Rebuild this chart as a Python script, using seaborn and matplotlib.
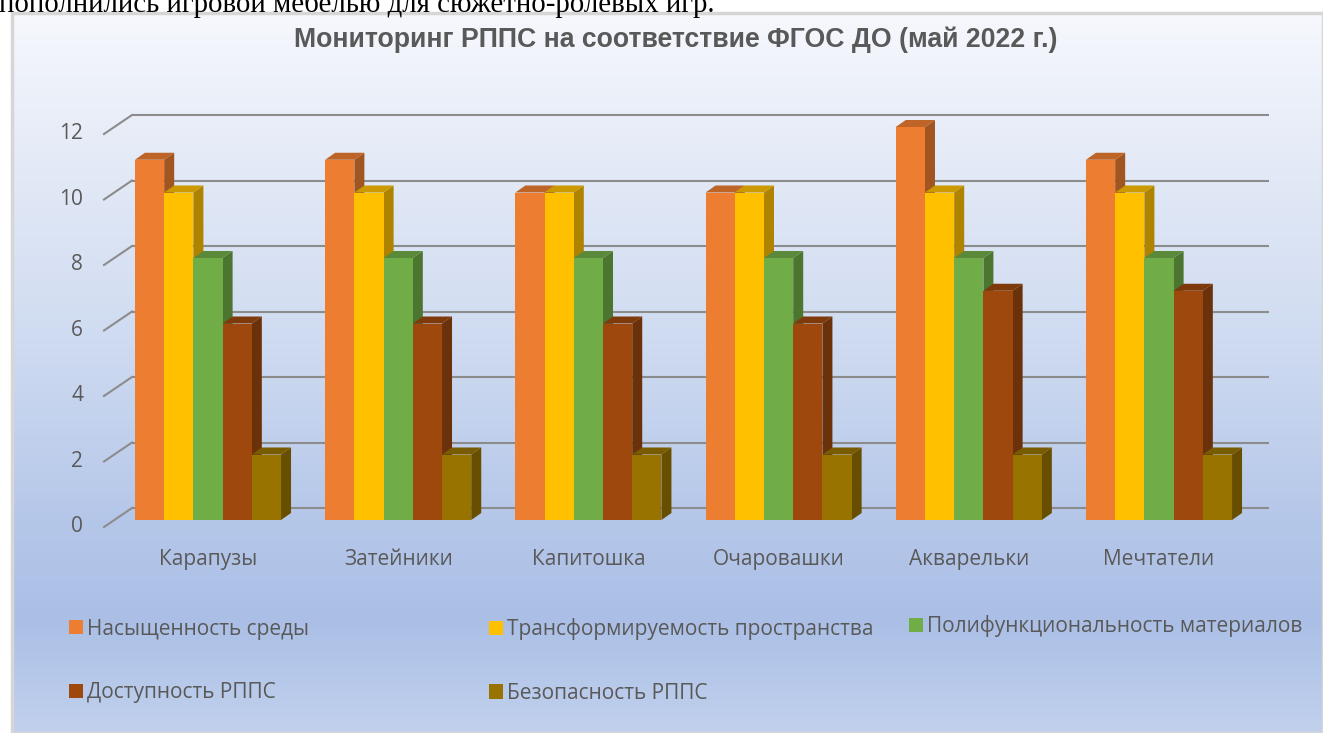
import numpy as np
import pandas as pd
import seaborn as sns
import matplotlib.pyplot as plt
from matplotlib import colors as mcolors
from matplotlib.patches import Polygon, Rectangle

# data
groups = ["Карапузы", "Затейники", "Капитошка", "Очаровашки", "Акварельки", "Мечтатели"]
series = ["Насыщенность среды", "Трансформируемость пространства",
          "Полифункциональность материалов", "Доступность РППС", "Безопасность РППС"]
saturation_vals = [11, 11, 10, 10, 12, 11]
transform_vals = [10, 10, 10, 10, 10, 10]
polyfunc_vals = [8, 8, 8, 8, 8, 8]
access_vals = [6, 6, 6, 6, 7, 7]
safety_vals = [2, 2, 2, 2, 2, 2]
y_ticks = [0, 2, 4, 6, 8, 10, 12]

title = "Мониторинг РППС на соответствие ФГОС ДО (май 2022 г.)"
page_text = "пополнились игровой мебелью для сюжетно-ролевых игр."

bar_colors = ["#ED7D31", "#FFC000", "#70AD47", "#9E480E", "#997300"]
text_color = "#595959"
grid_color = "#8c8c8c"

plt.rcParams["font.family"] = ["Open Sans", "DejaVu Sans"]

W, H = 1323, 733
fig = plt.figure(figsize=(W / 100, H / 100), dpi=100)


# pixel -> data helpers for the main plot
def px_x(px):
    return (px - 208) / 190.2


def px_y(py):
    return (520 - py) / 32.75


# chart area background (vertical gradient, as in Excel)
bg = fig.add_axes([12 / W, 0, 1 - 12 / W, 1 - 13 / H], zorder=0)
stops_y = [13, 150, 330, 520, 620, 733]
stops_rgb = [(246, 248, 253), (229, 235, 247), (208, 220, 241),
             (181, 199, 233), (171, 191, 230), (193, 209, 237)]
rows = np.arange(13, 734)
grad = np.stack([np.interp(rows, stops_y, [c[i] for c in stops_rgb]) for i in range(3)], axis=-1) / 255
bg.imshow(grad[:, None, :], aspect="auto", extent=[0, 1, 0, 1])
bg.add_patch(Rectangle((0, 0), 1, 1, transform=bg.transAxes, fill=False,
                       edgecolor="#d6d6d6", lw=2.5, clip_on=False))
bg.axis("off")

# main axes
left_px, right_px, top_px, bottom_px = 40, 1300, 95, 545
ax = fig.add_axes([left_px / W, 1 - bottom_px / H, (right_px - left_px) / W, (bottom_px - top_px) / H],
                  zorder=1)
ax.patch.set_alpha(0)

df = pd.DataFrame({
    "group": np.tile(groups, len(series)),
    "series": np.repeat(series, len(groups)),
    "value": np.concatenate([saturation_vals, transform_vals, polyfunc_vals, access_vals, safety_vals]),
})

sns.barplot(data=df, x="group", y="value", hue="series", palette=bar_colors,
            saturation=1, width=0.768, errorbar=None, ax=ax)

leg = ax.get_legend()
handles = leg.legend_handles
labels = [t.get_text() for t in leg.texts]
leg.remove()

# fake 3D: side and top faces for every bar
dx = 10 / 190.2
dy = 7 / 32.75
for k, cont in enumerate(ax.containers):
    rgb = np.array(mcolors.to_rgb(bar_colors[k]))
    for bar in cont:
        x0 = bar.get_x()
        x1 = x0 + bar.get_width()
        h = bar.get_height()
        bar.set_edgecolor("none")
        bar.set_zorder(3 + k * 0.1 + 0.05)
        ax.add_patch(Polygon([(x1, 0), (x1 + dx, dy), (x1 + dx, h + dy), (x1, h)],
                             facecolor=rgb * 0.68, edgecolor="none", zorder=3 + k * 0.1))
        ax.add_patch(Polygon([(x0, h), (x0 + dx, h + dy), (x1 + dx, h + dy), (x1, h)],
                             facecolor=rgb * 0.8, edgecolor="none", zorder=3 + k * 0.1))

# back-wall gridlines with the little diagonal floor ticks
back = 12 / 32.75
gx0, gx1 = px_x(132), px_x(1269)
for v in y_ticks:
    ax.plot([gx0, gx1], [v + back, v + back], color=grid_color, lw=1.5, zorder=1,
            solid_capstyle="butt")
    ax.plot([px_x(104), gx0], [v - 7 / 32.75, v + back], color=grid_color, lw=1.5, zorder=1)
    ax.text(px_x(83), v - 0.2, str(v), ha="right", va="center", fontsize=15, color=text_color)

ax.set_xlim(px_x(left_px), px_x(right_px))
ax.set_ylim(px_y(bottom_px), px_y(top_px))
ax.set_yticks([])
ax.set_xlabel("")
ax.set_ylabel("")
ax.tick_params(axis="x", length=0, pad=3, labelsize=15, labelcolor=text_color)
for s in ax.spines.values():
    s.set_visible(False)

# legend: three columns placed like the Excel layout
fs = 15
fs_px = fs * 100 / 72
cols = [([0, 3], 69, 661), ([1, 4], 489, 661), ([2], 909, 626)]
for idx, x, y in cols:
    fig.legend([handles[i] for i in idx], [labels[i] for i in idx],
               loc="center left", bbox_to_anchor=(x / W, 1 - y / H),
               frameon=False, fontsize=fs, labelcolor=text_color,
               handlelength=14 / fs_px, handleheight=14 / fs_px, handletextpad=0.2,
               labelspacing=2.05, borderpad=0, borderaxespad=0)

fig.text(675.5 / W, 1 - 47 / H, title, ha="center", va="baseline", fontsize=19.2,
         fontweight="bold", color=text_color, family="Liberation Sans")

fig.text(-0.001, 1 - 12 / H, page_text, ha="left", va="baseline", fontsize=20.8,
         family="Liberation Serif", color="black")

fig.savefig("out.png", dpi=100)
